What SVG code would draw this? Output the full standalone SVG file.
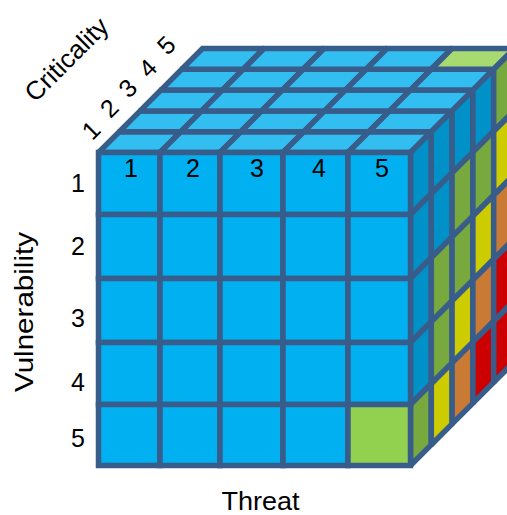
<svg xmlns="http://www.w3.org/2000/svg" width="507" height="515" viewBox="0 0 507 515">
<style>
  .c polygon, .c rect { stroke: #385D8A; stroke-width: 5.5; stroke-linejoin: miter; stroke-miterlimit: 2; }
  .t { fill: #33BEF2; }
  .tg { fill: #A9D971; }
  .f { fill: #00B0F0; }
  .fg { fill: #92D050; }
  .sb { fill: #0091C9; }
  .sg { fill: #77A93E; }
  .sy { fill: #CCCC00; }
  .so { fill: #C97A34; }
  .sr { fill: #CC0000; }
  text { font-family: "Liberation Sans", Arial, sans-serif; fill: #000; }
  .n { font-size: 25px; text-anchor: middle; }
  .lab { font-size: 26px; text-anchor: middle; }
</style>
<rect width="507" height="515" fill="#fff"/>
<g id="top-face" class="c">
  <polygon class="t" points="98.5,152.5 160,152.5 180.8,131.7 119.3,131.7"/>
  <polygon class="t" points="160,152.5 220,152.5 240.8,131.7 180.8,131.7"/>
  <polygon class="t" points="220,152.5 283,152.5 303.8,131.7 240.8,131.7"/>
  <polygon class="t" points="283,152.5 348,152.5 368.8,131.7 303.8,131.7"/>
  <polygon class="t" points="348,152.5 410.5,152.5 431.3,131.7 368.8,131.7"/>
  <polygon class="t" points="119.3,131.7 180.8,131.7 201.6,110.9 140.1,110.9"/>
  <polygon class="t" points="180.8,131.7 240.8,131.7 261.6,110.9 201.6,110.9"/>
  <polygon class="t" points="240.8,131.7 303.8,131.7 324.6,110.9 261.6,110.9"/>
  <polygon class="t" points="303.8,131.7 368.8,131.7 389.6,110.9 324.6,110.9"/>
  <polygon class="t" points="368.8,131.7 431.3,131.7 452.1,110.9 389.6,110.9"/>
  <polygon class="t" points="140.1,110.9 201.6,110.9 222.4,90.1 160.9,90.1"/>
  <polygon class="t" points="201.6,110.9 261.6,110.9 282.4,90.1 222.4,90.1"/>
  <polygon class="t" points="261.6,110.9 324.6,110.9 345.4,90.1 282.4,90.1"/>
  <polygon class="t" points="324.6,110.9 389.6,110.9 410.4,90.1 345.4,90.1"/>
  <polygon class="t" points="389.6,110.9 452.1,110.9 472.9,90.1 410.4,90.1"/>
  <polygon class="t" points="160.9,90.1 222.4,90.1 243.2,69.3 181.7,69.3"/>
  <polygon class="t" points="222.4,90.1 282.4,90.1 303.2,69.3 243.2,69.3"/>
  <polygon class="t" points="282.4,90.1 345.4,90.1 366.2,69.3 303.2,69.3"/>
  <polygon class="t" points="345.4,90.1 410.4,90.1 431.2,69.3 366.2,69.3"/>
  <polygon class="t" points="410.4,90.1 472.9,90.1 493.7,69.3 431.2,69.3"/>
  <polygon class="t" points="181.7,69.3 243.2,69.3 264,48.5 202.5,48.5"/>
  <polygon class="t" points="243.2,69.3 303.2,69.3 324,48.5 264,48.5"/>
  <polygon class="t" points="303.2,69.3 366.2,69.3 387,48.5 324,48.5"/>
  <polygon class="t" points="366.2,69.3 431.2,69.3 452,48.5 387,48.5"/>
  <polygon class="tg" points="431.2,69.3 493.7,69.3 514.5,48.5 452,48.5"/>
</g>
<g id="side-face" class="c">
  <polygon class="sb" points="410.5,152.5 431.3,131.7 431.3,193.7 410.5,214.5"/>
  <polygon class="sb" points="410.5,214.5 431.3,193.7 431.3,257.7 410.5,278.5"/>
  <polygon class="sb" points="410.5,278.5 431.3,257.7 431.3,321.7 410.5,342.5"/>
  <polygon class="sb" points="410.5,342.5 431.3,321.7 431.3,383.7 410.5,404.5"/>
  <polygon class="sg" points="410.5,404.5 431.3,383.7 431.3,444.7 410.5,465.5"/>
  <polygon class="sb" points="431.3,131.7 452.1,110.9 452.1,172.9 431.3,193.7"/>
  <polygon class="sb" points="431.3,193.7 452.1,172.9 452.1,236.9 431.3,257.7"/>
  <polygon class="sg" points="431.3,257.7 452.1,236.9 452.1,300.9 431.3,321.7"/>
  <polygon class="sg" points="431.3,321.7 452.1,300.9 452.1,362.9 431.3,383.7"/>
  <polygon class="sy" points="431.3,383.7 452.1,362.9 452.1,423.9 431.3,444.7"/>
  <polygon class="sb" points="452.1,110.9 472.9,90.1 472.9,152.1 452.1,172.9"/>
  <polygon class="sg" points="452.1,172.9 472.9,152.1 472.9,216.1 452.1,236.9"/>
  <polygon class="sg" points="452.1,236.9 472.9,216.1 472.9,280.1 452.1,300.9"/>
  <polygon class="sy" points="452.1,300.9 472.9,280.1 472.9,342.1 452.1,362.9"/>
  <polygon class="so" points="452.1,362.9 472.9,342.1 472.9,403.1 452.1,423.9"/>
  <polygon class="sb" points="472.9,90.1 493.7,69.3 493.7,131.3 472.9,152.1"/>
  <polygon class="sg" points="472.9,152.1 493.7,131.3 493.7,195.3 472.9,216.1"/>
  <polygon class="sy" points="472.9,216.1 493.7,195.3 493.7,259.3 472.9,280.1"/>
  <polygon class="so" points="472.9,280.1 493.7,259.3 493.7,321.3 472.9,342.1"/>
  <polygon class="sr" points="472.9,342.1 493.7,321.3 493.7,382.3 472.9,403.1"/>
  <polygon class="sg" points="493.7,69.3 514.5,48.5 514.5,110.5 493.7,131.3"/>
  <polygon class="sy" points="493.7,131.3 514.5,110.5 514.5,174.5 493.7,195.3"/>
  <polygon class="so" points="493.7,195.3 514.5,174.5 514.5,238.5 493.7,259.3"/>
  <polygon class="sr" points="493.7,259.3 514.5,238.5 514.5,300.5 493.7,321.3"/>
  <polygon class="sr" points="493.7,321.3 514.5,300.5 514.5,361.5 493.7,382.3"/>
</g>
<g id="front-face" class="c">
  <rect class="f" x="98.5" y="152.5" width="61.5" height="62"/>
  <rect class="f" x="160" y="152.5" width="60" height="62"/>
  <rect class="f" x="220" y="152.5" width="63" height="62"/>
  <rect class="f" x="283" y="152.5" width="65" height="62"/>
  <rect class="f" x="348" y="152.5" width="62.5" height="62"/>
  <rect class="f" x="98.5" y="214.5" width="61.5" height="64"/>
  <rect class="f" x="160" y="214.5" width="60" height="64"/>
  <rect class="f" x="220" y="214.5" width="63" height="64"/>
  <rect class="f" x="283" y="214.5" width="65" height="64"/>
  <rect class="f" x="348" y="214.5" width="62.5" height="64"/>
  <rect class="f" x="98.5" y="278.5" width="61.5" height="64"/>
  <rect class="f" x="160" y="278.5" width="60" height="64"/>
  <rect class="f" x="220" y="278.5" width="63" height="64"/>
  <rect class="f" x="283" y="278.5" width="65" height="64"/>
  <rect class="f" x="348" y="278.5" width="62.5" height="64"/>
  <rect class="f" x="98.5" y="342.5" width="61.5" height="62"/>
  <rect class="f" x="160" y="342.5" width="60" height="62"/>
  <rect class="f" x="220" y="342.5" width="63" height="62"/>
  <rect class="f" x="283" y="342.5" width="65" height="62"/>
  <rect class="f" x="348" y="342.5" width="62.5" height="62"/>
  <rect class="f" x="98.5" y="404.5" width="61.5" height="61"/>
  <rect class="f" x="160" y="404.5" width="60" height="61"/>
  <rect class="f" x="220" y="404.5" width="63" height="61"/>
  <rect class="f" x="283" y="404.5" width="65" height="61"/>
  <rect class="fg" x="348" y="404.5" width="62.5" height="61"/>
</g>
<g id="threat-labels">
  <text class="n" x="131" y="177">1</text>
  <text class="n" x="193" y="177">2</text>
  <text class="n" x="257" y="177">3</text>
  <text class="n" x="319" y="177">4</text>
  <text class="n" x="382" y="177">5</text>
</g>
<g id="vulnerability-labels">
  <text class="n" x="78" y="192">1</text>
  <text class="n" x="78" y="255">2</text>
  <text class="n" x="78" y="327">3</text>
  <text class="n" x="78" y="391">4</text>
  <text class="n" x="78" y="447">5</text>
</g>
<g id="criticality-labels">
  <text class="n" transform="translate(90.8,130) rotate(-45)" y="9">1</text>
  <text class="n" transform="translate(109,108) rotate(-45)" y="9">2</text>
  <text class="n" transform="translate(127.5,88) rotate(-45)" y="9">3</text>
  <text class="n" transform="translate(147.5,68) rotate(-45)" y="9">4</text>
  <text class="n" transform="translate(166,45) rotate(-45)" y="9">5</text>
</g>
<g id="axis-titles">
  <text class="lab" transform="translate(67,60) rotate(-45)" y="8" textLength="106" lengthAdjust="spacingAndGlyphs">Criticality</text>
  <text class="lab" transform="translate(33,312) rotate(-90)" y="0" textLength="160" lengthAdjust="spacingAndGlyphs">Vulnerability</text>
  <text class="lab" x="260.5" y="509.5" style="font-size:25px" textLength="78" lengthAdjust="spacingAndGlyphs">Threat</text>
</g>
</svg>
